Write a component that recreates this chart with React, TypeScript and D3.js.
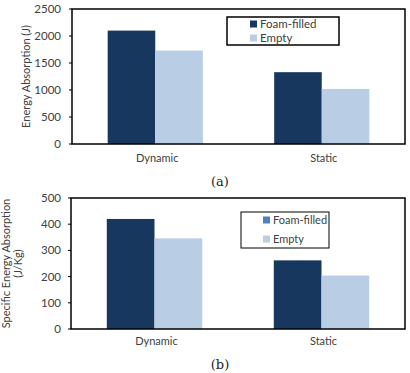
import * as d3 from "d3";

const categories = ["Dynamic", "Static"];
const seriesNames = ["Foam-filled", "Empty"];
const energyFoam = [2100, 1330];
const energyEmpty = [1730, 1020];
const specificFoam = [420, 262];
const specificEmpty = [346, 204];
const energyTicks = [0, 500, 1000, 1500, 2000, 2500];
const specificTicks = [0, 100, 200, 300, 400, 500];

const DARK = "#17375e";
const LIGHT = "#b9cde5";
const SANS = "Lato, sans-serif";

interface Box { x0: number; x1: number; y0: number; y1: number }
interface Legend { x: number; y: number; w: number; h: number; rowY: number[]; sw: number; foamSwatch: string; stroke: number; fs: number }

function Panel({ box, foam, empty, ticks, titleLines, titleX, titleFs, legend, caption, captionY }: {
  box: Box; foam: number[]; empty: number[]; ticks: number[]; titleLines: string[]; titleX: number[]; titleFs: number;
  legend: Legend; caption: string; captionY: number;
}) {
  const x = d3.scaleBand().domain(categories).range([box.x0, box.x1]);
  const inner = d3.scaleBand().domain(seriesNames).range([0, x.bandwidth()]).paddingOuter(0.75);
  const y = d3.scaleLinear().domain([0, ticks[ticks.length - 1]]).range([box.y1, box.y0]);
  const vals = [foam, empty];
  const cols = [DARK, LIGHT];
  const midY = (box.y0 + box.y1) / 2;
  return (
    <g>
      {seriesNames.map((s, si) =>
        categories.map((c, ci) => (
          <rect key={s + c} x={x(c)! + inner(s)!} width={inner.bandwidth()} y={y(vals[si][ci])}
            height={y(0) - y(vals[si][ci])} fill={cols[si]} />
        )))}
      <rect x={box.x0} y={box.y0} width={box.x1 - box.x0} height={box.y1 - box.y0} fill="none" stroke="#000" strokeWidth={1.5} />
      {ticks.map(t => (
        <g key={t}>
          <line x1={box.x0 - 3} x2={box.x0} y1={y(t)} y2={y(t)} stroke="#000" strokeWidth={1} />
          <text x={61} y={y(t) + 4} textAnchor="end" fontFamily={SANS} fontSize={11.5} fill="#404040">{t}</text>
        </g>
      ))}
      {categories.map(c => (
        <text key={c} x={x(c)! + x.bandwidth() / 2 + 2} y={captionY - 24} textAnchor="middle" fontFamily={SANS} fontSize={11} fill="#404040">{c}</text>
      ))}
      {titleLines.map((t, i) => (
        <text key={t} transform={`translate(${titleX[i]},${midY}) rotate(-90)`} textAnchor="middle" fontFamily={SANS} fontSize={titleFs} fill="#404040" dy="0.35em">{t}</text>
      ))}
      <rect x={legend.x} y={legend.y} width={legend.w} height={legend.h} fill="#fff" stroke="#000" strokeWidth={legend.stroke} />
      {seriesNames.map((s, si) => (
        <g key={s}>
          <rect x={legend.sw} y={legend.rowY[si] - 3.5} width={7} height={7} fill={si === 0 ? legend.foamSwatch : LIGHT} />
          <text x={legend.sw + 10} y={legend.rowY[si] + 4} fontFamily={SANS} fontSize={legend.fs} fill="#404040">{s}</text>
        </g>
      ))}
      <text x={220} y={captionY} textAnchor="middle" fontFamily="'DejaVu Serif', serif" fontSize={13} fill="#222">{caption}</text>
    </g>
  );
}

export default function App() {
  return (
    <svg width={410} height={373} style={{ position: "absolute", left: 0, top: 0, background: "#fff" }}>
      <Panel box={{ x0: 72, x1: 405, y0: 9, y1: 144 }} foam={energyFoam} empty={energyEmpty} ticks={energyTicks}
        titleLines={["Energy Absorption (J)"]} titleX={[26]} titleFs={11}
        legend={{ x: 227, y: 17, w: 112, h: 28, rowY: [24, 38], sw: 250, foamSwatch: DARK, stroke: 1.5, fs: 11.5 }}
        caption="(a)" captionY={186} />
      <Panel box={{ x0: 71, x1: 405, y0: 198, y1: 329 }} foam={specificFoam} empty={specificEmpty} ticks={specificTicks}
        titleLines={["Specific Energy Absorption", "(J/Kg)"]} titleX={[6, 18]} titleFs={11}
        legend={{ x: 241, y: 212, w: 88, h: 36, rowY: [220, 239], sw: 263, foamSwatch: "#4f81bd", stroke: 1, fs: 11 }}
        caption="(b)" captionY={369} />
    </svg>
  );
}
